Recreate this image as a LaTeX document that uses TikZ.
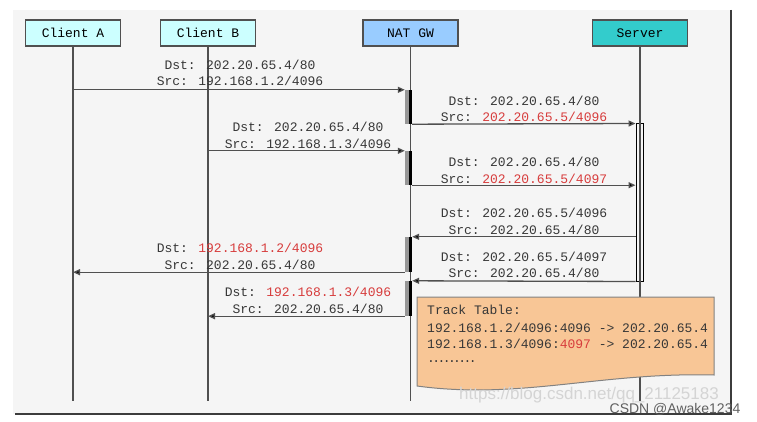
\documentclass[tikz,border=0pt]{standalone}
\usepackage{fontspec}
\newfontfamily\monof{Liberation Mono}
\newfontfamily\sansf{Liberation Sans}
\usetikzlibrary{arrows.meta}
\definecolor{bgc}{RGB}{245,245,245}
\definecolor{framec}{RGB}{60,60,60}
\definecolor{clientc}{RGB}{204,255,255}
\definecolor{natc}{RGB}{153,204,255}
\definecolor{serverc}{RGB}{51,204,204}
\definecolor{linec}{RGB}{80,80,80}
\definecolor{txtc}{RGB}{55,55,55}
\definecolor{redc}{RGB}{215,60,60}
\definecolor{barg}{RGB}{150,150,150}
\definecolor{tblc}{RGB}{248,198,150}
\definecolor{tblb}{RGB}{130,130,130}
\definecolor{wm1}{RGB}{212,212,212}
\definecolor{wm2}{RGB}{95,95,95}
\newcommand{\rd}[1]{\textcolor{redc}{#1}}
\begin{document}
\begin{tikzpicture}[x=1pt,y=-1pt,
  hdr/.style={draw=linec, line width=1.2pt, minimum width=95pt, minimum height=26pt, inner sep=0pt,
    font=\monof\fontsize{13}{15}\selectfont, text=black},
  life/.style={draw=linec, line width=1.1pt},
  msg/.style={draw=linec, line width=1.3pt, -{Triangle[length=7pt,width=6pt,fill=black]}},
  lbl/.style={font=\monof\fontsize{13}{16.5}\selectfont, text=txtc, align=center, inner sep=0pt},
  tbltxt/.style={font=\monof\fontsize{13}{15}\selectfont, text=txtc, anchor=west, inner sep=0pt},
  natbar/.style={rectangle, inner sep=0pt, minimum width=7pt, fill=barg,
    path picture={\fill[black] ([xshift=-3.5pt]path picture bounding box.north east) rectangle (path picture bounding box.south east);}},
  srvbar/.style={rectangle, inner sep=0pt, minimum width=7pt, draw=black, line width=1pt, fill=bgc}
]
\useasboundingbox (0,0) rectangle (757,422);
\fill[white] (0,0) rectangle (757,422);
\fill[bgc] (13,10) rectangle (731,414);
\draw[framec, line width=2.5pt] (731,10) -- (731,414) -- (15,414);

% headers
\node[hdr, fill=clientc] (ca) at (73,33) {Client A};
\node[hdr, fill=clientc] (cb) at (208,33) {Client B};
\node[hdr, fill=natc] (nat) at (410.5,33) {NAT GW};
\node[hdr, fill=serverc] (srv) at (640,33) {Server};

% lifeline ends
\coordinate (caE) at (73,401);
\coordinate (cbE) at (208,401);
\coordinate (natE) at (410.5,401);
\coordinate (srvE) at (640,401);
\draw[life] (ca) -- (caE);
\draw[life] (cb) -- (cbE);
\draw[life] (nat) -- (natE);

% server activation bar
\node[srvbar, minimum height=157pt] (s1) at (639.5,202.5) {};
\draw[life] (srv) -- (srvE);

% NAT activation bars
\node[natbar, minimum height=34pt] (n1) at (408.5,107) {};
\node[natbar, minimum height=34pt] (n2) at (408.5,168) {};
\node[natbar, minimum height=35pt] (n3) at (408.5,254.5) {};
\node[natbar, minimum height=35pt] (n4) at (408.5,298.5) {};

% messages
\draw[msg] (ca |- n1.north) -- (n1.north west);
\draw[msg] (n1.south east) -- (s1.north west);
\draw[msg] (cb |- n2.north) -- (n2.north west);
\draw[msg] (n2.south east) -- (s1.west |- n2.south);
\draw[msg] (s1.west |- n3.north) -- (n3.north east);
\draw[msg] (n3.south west) -- (ca |- n3.south);
\draw[msg] (s1.south west) -- (n4.north east);
\draw[msg] (n4.south west) -- (cb |- n4.south);

% labels
\node[lbl] (l1) at (240,73) {Dst: 202.20.65.4/80\\Src: 192.168.1.2/4096};
\node[lbl] (l2) at (524,109) {Dst: 202.20.65.4/80\\Src: \rd{202.20.65.5/4096}};
\node[lbl] (l3) at (308,135.5) {Dst: 202.20.65.4/80\\Src: 192.168.1.3/4096};
\node[lbl] (l4) at (524,170.5) {Dst: 202.20.65.4/80\\Src: \rd{202.20.65.5/4097}};
\node[lbl] (l5) at (524,221.5) {Dst: 202.20.65.5/4096\\Src: 202.20.65.4/80};
\node[lbl] (l6) at (240,256.5) {Dst: \rd{192.168.1.2/4096}\\Src: 202.20.65.4/80};
\node[lbl] (l7) at (524,265) {Dst: 202.20.65.5/4097\\Src: 202.20.65.4/80};
\node[lbl] (l8) at (308,300.5) {Dst: \rd{192.168.1.3/4096}\\Src: 202.20.65.4/80};

% track table
\path[draw=tblb, line width=1pt, fill=tblc] (417,297) -- (714,297) -- (714,375)
  .. controls (600,372) and (520,400) .. (417,386) -- cycle;
\node[tbltxt] (t1) at (427,310) {Track Table:};
\node[tbltxt] (t2) at (427,328) {192.168.1.2/4096:4096 -> 202.20.65.4};
\node[tbltxt] (t3) at (427,344) {192.168.1.3/4096:\rd{4097} -> 202.20.65.4};
\node[tbltxt] (t4) at (427,362) {.\kern-2.6pt.\kern-2.6pt.\kern-2.6pt.\kern-2.6pt.\kern-2.6pt.\kern-2.6pt.\kern-2.6pt.\kern-2.6pt.};

% watermarks
\node[font=\sansf\fontsize{17}{19}\selectfont, text=wm1, inner sep=0pt] (w1) at (589,395) {https://blog.csdn.net/qq\_21125183};
\node[font=\sansf\fontsize{14}{16}\selectfont, text=wm2, inner sep=0pt] (w2) at (675,409) {CSDN @Awake1234};
\end{tikzpicture}
\end{document}
